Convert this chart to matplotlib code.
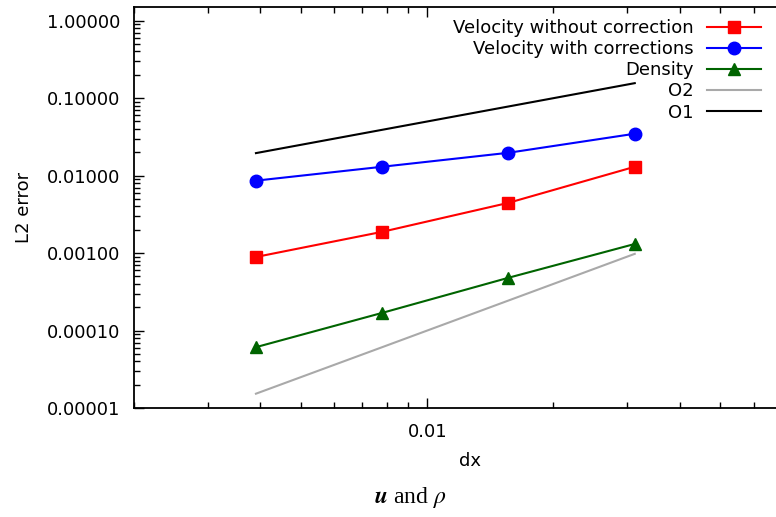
import numpy as np
import matplotlib.pyplot as plt
from matplotlib.ticker import FormatStrFormatter

plt.rcParams['mathtext.fontset'] = 'stix'

# grid spacings
dx = [1 / 256, 1 / 128, 1 / 64, 1 / 32]

# L2 errors
vel_no_corr = [8.9e-4, 1.88e-3, 4.45e-3, 1.30e-2]
vel_corr = [8.6e-3, 1.30e-2, 1.97e-2, 3.47e-2]
density = [6.1e-5, 1.69e-4, 4.8e-4, 1.31e-3]

# reference slopes
o2 = [1.53e-5, 6.1e-5, 2.44e-4, 9.77e-4]
o1 = [0.0195, 0.039, 0.078, 0.156]

fig = plt.figure(figsize=(7.76, 5.17), dpi=100)
# right spine sits just outside the picture, as in the original
ax = fig.add_axes([134 / 776, 109 / 517, 672 / 776, 401 / 517])

ax.loglog(dx, vel_no_corr, color='red', marker='s', ms=9, lw=1.5,
          label='Velocity without correction')
ax.loglog(dx, vel_corr, color='blue', marker='o', ms=9, lw=1.5,
          label='Velocity with corrections')
ax.loglog(dx, density, color='darkgreen', marker='^', ms=9, lw=1.5,
          label='Density')
ax.loglog(dx, o2, color='darkgray', lw=1.5, label='O2')
ax.loglog(dx, o1, color='black', lw=1.5, label='O1')

ax.set_xlim(0.002, 0.08)
ax.set_ylim(1e-5, 1.5)
ax.yaxis.set_major_formatter(FormatStrFormatter('%.5f'))
ax.xaxis.set_major_formatter(FormatStrFormatter('%g'))
ax.tick_params(which='both', direction='in', top=True, right=True, labelsize=13)
ax.tick_params(which='major', length=7, width=1)
ax.tick_params(which='minor', length=4, width=1)
ax.tick_params(axis='x', which='major', pad=11)
ax.tick_params(axis='y', which='major', pad=10)
for s in ax.spines.values():
    s.set_linewidth(1.3)

ax.set_xlabel('dx', fontsize=13, labelpad=8)
ax.set_ylabel('L2 error', fontsize=13, labelpad=10)

ax.legend(loc='upper right', bbox_to_anchor=(768 / 776, 505 / 517),
          bbox_transform=fig.transFigure, frameon=False,
          markerfirst=False, fontsize=13, handlelength=3.0,
          handletextpad=0.7, labelspacing=0.17, borderaxespad=0)

fig.text(410 / 776, 19 / 517, r'$\mathbfit{u}$ and $\rho$', fontsize=17,
         family='Liberation Serif', ha='center', va='center')

fig.savefig('out.png', dpi=100)
